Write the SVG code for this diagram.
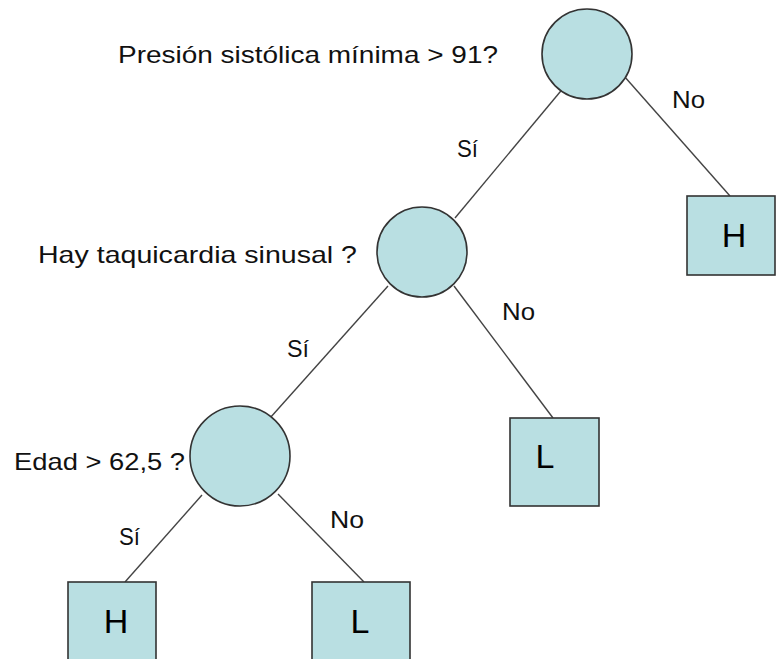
<svg xmlns="http://www.w3.org/2000/svg" width="776" height="659" viewBox="0 0 776 659">
<style>
.node{fill:#b9dfe2;stroke:#333;stroke-width:1.6}
.edge{stroke:#444;stroke-width:1.4;fill:none}
.q{font-family:"Liberation Sans",Arial,sans-serif;font-size:24px;fill:#111}
.lbl{font-family:"Liberation Sans",Arial,sans-serif;font-size:24px;fill:#111}
.leaf{font-family:"Liberation Sans",Arial,sans-serif;font-size:34px;fill:#000;text-anchor:middle}
</style>
<rect width="776" height="659" fill="#fff"/>
<g id="connectors">
<line class="edge" x1="565" y1="86" x2="455" y2="218"/>
<line class="edge" x1="624" y1="76" x2="730" y2="196"/>
<line class="edge" x1="454" y1="286" x2="553" y2="418"/>
<line class="edge" x1="388" y1="286" x2="270" y2="418"/>
<line class="edge" x1="202" y1="495" x2="125" y2="582"/>
<line class="edge" x1="278" y1="494" x2="364" y2="582"/>
<text class="lbl" x="457" y="157" textLength="21" lengthAdjust="spacingAndGlyphs">Sí</text>
<text class="lbl" x="672" y="108" textLength="33" lengthAdjust="spacingAndGlyphs">No</text>
<text class="lbl" x="287" y="357" textLength="22" lengthAdjust="spacingAndGlyphs">Sí</text>
<text class="lbl" x="502" y="320" textLength="33" lengthAdjust="spacingAndGlyphs">No</text>
<text class="lbl" x="119" y="545" textLength="21" lengthAdjust="spacingAndGlyphs">Sí</text>
<text class="lbl" x="330" y="528" textLength="34" lengthAdjust="spacingAndGlyphs">No</text>
</g>
<g id="n_presion">
<circle class="node" cx="587" cy="54" r="45"/>
<text class="q" x="118" y="63" textLength="380" lengthAdjust="spacingAndGlyphs">Presión sistólica mínima &gt; 91?</text>
</g>
<g id="n_taqui">
<circle class="node" cx="422" cy="252" r="45"/>
<text class="q" x="38" y="263" textLength="319" lengthAdjust="spacingAndGlyphs">Hay taquicardia sinusal ?</text>
</g>
<g id="n_edad">
<circle class="node" cx="240" cy="456" r="50"/>
<text class="q" x="14" y="470" textLength="171" lengthAdjust="spacingAndGlyphs">Edad &gt; 62,5 ?</text>
</g>
<g id="leaf_h1">
<rect class="node" x="687" y="196" width="88" height="79"/>
<text class="leaf" x="734" y="247">H</text>
</g>
<g id="leaf_l1">
<rect class="node" x="510" y="418" width="89" height="88"/>
<text class="leaf" x="545" y="468">L</text>
</g>
<g id="leaf_h2">
<rect class="node" x="68" y="582" width="88" height="90"/>
<text class="leaf" x="116" y="633">H</text>
</g>
<g id="leaf_l2">
<rect class="node" x="312" y="582" width="98" height="90"/>
<text class="leaf" x="360" y="633">L</text>
</g>
</svg>
